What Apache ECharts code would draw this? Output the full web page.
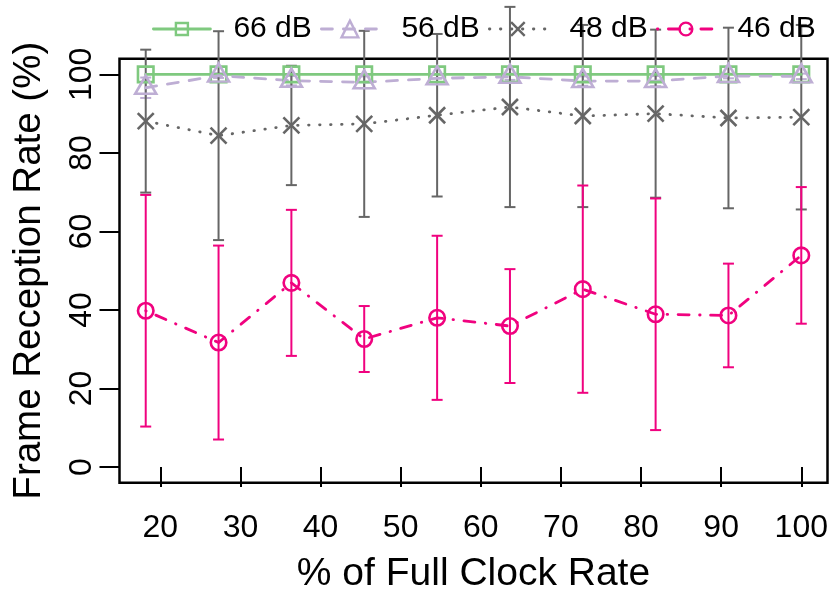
<!DOCTYPE html>
<html><head><meta charset="utf-8">
<script src="https://cdn.jsdelivr.net/npm/echarts@6/dist/echarts.min.js"></script>
<style>html,body{margin:0;padding:0;background:#fff}#c{width:832px;height:592px}</style>
</head><body><div id="c"></div>
<script>
// ---- data ----
const clockRate = [18.18, 27.27, 36.36, 45.45, 54.55, 63.64, 72.73, 81.82, 90.91, 100];
const xTicks = [20, 30, 40, 50, 60, 70, 80, 90, 100];
const yTicks = [0, 20, 40, 60, 80, 100];
const names = ['66 dB', '56 dB', '48 dB', '46 dB'];
const mean66 = [100, 100, 100, 100, 100, 100, 100, 100, 100, 100];
const sd66   = [0, 0, 0, 0, 0, 0, 0, 0, 0, 0];
const mean56 = [96.6, 99.7, 98.4, 98.0, 99.0, 99.4, 98.3, 98.3, 99.6, 99.5];
const sd56   = [2.6, 0.6, 1.2, 1.5, 1.0, 0.8, 1.2, 1.3, 0.6, 0.7];
const mean48 = [88.1, 84.4, 87.0, 87.4, 89.6, 91.7, 89.4, 90.0, 88.9, 89.1];
const sd48   = [18.2, 26.6, 15.2, 23.7, 20.7, 25.5, 23.2, 21.4, 23.0, 23.5];
const mean46 = [39.8, 31.7, 46.9, 32.6, 38.0, 35.9, 45.3, 38.9, 38.6, 53.9];
const sd46   = [29.5, 24.7, 18.6, 8.4, 20.9, 14.5, 26.4, 29.5, 13.2, 17.4];

// ---- styles ----
const FONT = 'Liberation Sans, Arial, Helvetica, sans-serif';
const colors = ['#7FC97F', '#BEAED4', '#666666', '#F0027F'];
const LW = 2.8;
const dashes = ['solid', [11, 11], [0.5, 10.5], [0.5, 10.5, 11, 10.5]];
const symbols = ['rect', 'triangle', 'path://M0,0L10,10M10,0L0,10', 'circle'];
const symSizes = [15.5, [21, 18], 16, 15.5];
const symOffsets = [[0, 0], [0, -3], [0, 0], [0, 0]];
const legendLefts = [152, 320, 488, 656];
const legendItemH = [15, 21, 17, 16];
const means = [mean66, mean56, mean48, mean46];
const sds = [sd66, sd56, sd48, sd46];

const xMin = 18.18 - 0.04 * (100 - 18.18);
const xMax = 100 + 0.04 * (100 - 18.18);

const series = [];
names.forEach((n, i) => {
  series.push({
    type: 'custom', name: n + ' err', clip: false, silent: true, z: 3,
    data: clockRate.map((x, k) => [x, means[i][k], sds[i][k]]),
    renderItem: (params, api) => {
      const x = api.value(0), m = api.value(1), s = api.value(2);
      if (!s) return null;
      const t = api.coord([x, m + s]), b = api.coord([x, m - s]);
      const st = { stroke: colors[i], lineWidth: 2 };
      const hw = 5.5;
      return { type: 'group', children: [
        { type: 'line', shape: { x1: t[0], y1: t[1], x2: b[0], y2: b[1] }, style: st },
        { type: 'line', shape: { x1: t[0] - hw, y1: t[1], x2: t[0] + hw, y2: t[1] }, style: st },
        { type: 'line', shape: { x1: b[0] - hw, y1: b[1], x2: b[0] + hw, y2: b[1] }, style: st }
      ]};
    }
  });
  series.push({
    type: 'line', name: n, z: 4,
    data: clockRate.map((x, k) => [x, means[i][k]]),
    symbol: symbols[i], symbolSize: symSizes[i], symbolOffset: symOffsets[i],
    showAllSymbol: true,
    lineStyle: { color: colors[i], width: LW, type: dashes[i], cap: 'round' },
    itemStyle: { color: 'rgba(0,0,0,0)', borderColor: colors[i], borderWidth: 2.6 },
    emphasis: { disabled: true }
  });
});

const legends = names.map((n, i) => ({
  data: [n], left: legendLefts[i], top: 14, padding: 0, selectedMode: false,
  itemWidth: 57, itemHeight: legendItemH[i],
  textStyle: { fontFamily: FONT, fontSize: 30, color: '#000', padding: [0, 0, 0, 18] },
  itemStyle: { color: 'rgba(0,0,0,0)', borderColor: colors[i], borderWidth: 2.4 },
  lineStyle: { color: colors[i], width: LW, type: dashes[i], cap: 'round' }
}));

const chart = echarts.init(document.getElementById('c'), null, { renderer: 'canvas' });
chart.setOption({
  animation: false,
  backgroundColor: '#fff',
  legend: legends,
  grid: { left: 119.5, right: 4.5, top: 58.7, bottom: 109.3, show: true,
          outerBoundsMode: 'none', containLabel: false,
          borderColor: '#000', borderWidth: 2.5, backgroundColor: 'transparent' },
  xAxis: {
    type: 'value', min: xMin, max: xMax,
    axisLine: { show: false }, splitLine: { show: false },
    axisTick: { show: true, length: 20, lineStyle: { color: '#000', width: 2 }, customValues: xTicks },
    axisLabel: { customValues: xTicks, fontFamily: FONT, fontSize: 32, color: '#000', margin: 29 },
    name: '% of Full Clock Rate', nameLocation: 'middle', nameGap: 72,
    nameTextStyle: { fontFamily: FONT, fontSize: 39, color: '#000' }
  },
  yAxis: {
    type: 'value', min: -4, max: 104,
    axisLine: { show: false }, splitLine: { show: false },
    axisTick: { show: true, length: 20, lineStyle: { color: '#000', width: 2 }, customValues: yTicks },
    axisLabel: { customValues: yTicks, rotate: 90, fontFamily: FONT, fontSize: 32, color: '#000', margin: 21 },
    name: 'Frame Reception Rate (%)', nameLocation: 'middle', nameGap: 71,
    nameTextStyle: { fontFamily: FONT, fontSize: 38.5, color: '#000' }
  },
  series: series
});
</script></body></html>
